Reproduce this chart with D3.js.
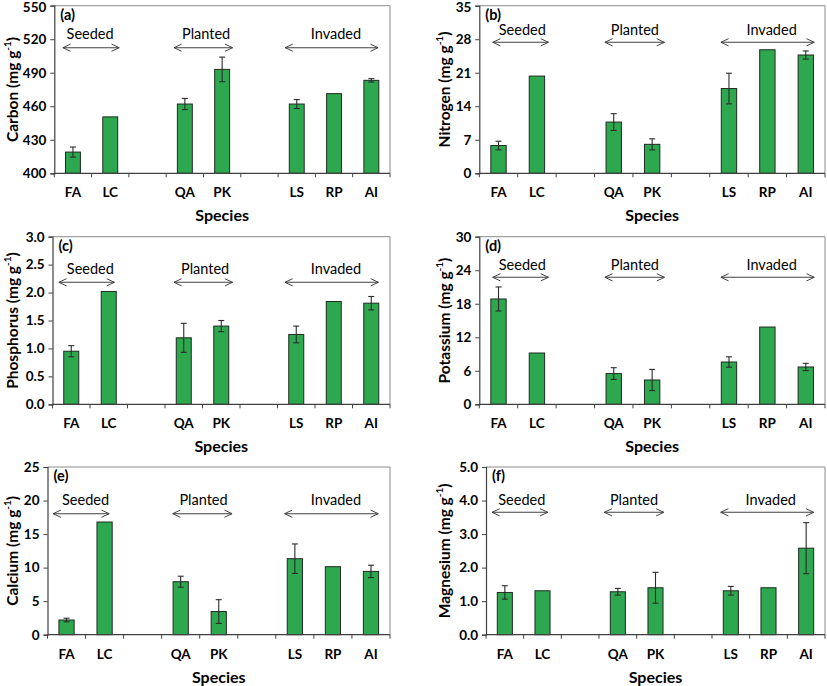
<!DOCTYPE html>
<html>
<head>
<meta charset="utf-8">
<script src="https://cdn.jsdelivr.net/npm/d3@7"></script>
<style>
  body { margin: 0; background: #fff; }
  svg { display: block; font-family: Lato, "Open Sans", sans-serif; }
</style>
</head>
<body>
<svg id="chart" width="827" height="686"></svg>
<script>
// ---------- data ----------
const slots = ["FA", "LC", "gap1", "QA", "PK", "gap2", "LS", "RP", "AI"];
const species = ["FA", "LC", "QA", "PK", "LS", "RP", "AI"];
const groups = ["Seeded", "Planted", "Invaded"];

const carbon = [419, 450.5, 462, 493, 462, 471.3, 483.2];
const carbonErr = [4.5, 0, 5, 11, 4, 0, 1.5];
const nitrogen = [5.8, 20.3, 10.7, 6.05, 17.7, 25.8, 24.7];
const nitrogenErr = [0.9, 0, 1.75, 1.15, 3.2, 0, 0.85];
const phosphorus = [0.95, 2.02, 1.19, 1.40, 1.25, 1.84, 1.81];
const phosphorusErr = [0.1, 0, 0.26, 0.1, 0.15, 0, 0.12];
const potassium = [18.85, 9.18, 5.5, 4.35, 7.57, 13.83, 6.68];
const potassiumErr = [2.15, 0, 1.05, 1.9, 0.93, 0, 0.65];
const calcium = [2.19, 16.8, 7.9, 3.45, 11.33, 10.14, 9.44];
const calciumErr = [0.27, 0, 0.82, 1.77, 2.2, 0, 0.92];
const magnesium = [1.26, 1.31, 1.28, 1.40, 1.31, 1.40, 2.58];
const magnesiumErr = [0.2, 0, 0.1, 0.46, 0.13, 0, 0.76];

const carbonTicks = [400, 430, 460, 490, 520, 550];
const nitrogenTicks = [0, 7, 14, 21, 28, 35];
const phosphorusTicks = [0, 0.5, 1.0, 1.5, 2.0, 2.5, 3.0];
const potassiumTicks = [0, 6, 12, 18, 24, 30];
const calciumTicks = [0, 5, 10, 15, 20, 25];
const magnesiumTicks = [0, 1, 2, 3, 4, 5];

const panelLabels = ["(a)", "(b)", "(c)", "(d)", "(e)", "(f)"];
const yTitles = ["Carbon", "Nitrogen", "Phosphorus", "Potassium", "Calcium", "Magnesium"];
const xTitle = "Species";

// ---------- layout (positions / styles) ----------
const layout = [
  { left: 54.3, right: 390, top: 5.7, bottom: 173.3, titleX: 11.5, fmt: d3.format("d"),
    ann: [[0.23,1.74,0.96],[3.21,4.78,4.07],[6.19,8.68,7.55]], textDy: 27.6, arrowDy: 42 },
  { left: 479.3, right: 825, top: 5.7, bottom: 173.3, titleX: 444, fmt: d3.format("d"),
    ann: [[0.35,1.80,1.12],[3.27,4.82,4.05],[6.29,8.72,7.61]], textDy: 23.3, arrowDy: 36.6 },
  { left: 52.5, right: 390, top: 236.7, bottom: 404.3, titleX: 11.5, fmt: d3.format(".1f"),
    ann: [[0.17,1.65,1.01],[3.24,4.80,4.07],[6.2,8.69,7.56]], textDy: 31.7, arrowDy: 45.6 },
  { left: 479.3, right: 825, top: 236.7, bottom: 404.3, titleX: 444, fmt: d3.format("d"),
    ann: [[0.35,1.80,1.12],[3.27,4.82,4.05],[6.29,8.72,7.61]], textDy: 27.3, arrowDy: 40.6 },
  { left: 47.5, right: 390, top: 467, bottom: 634.7, titleX: 11.5, fmt: d3.format("d"),
    ann: [[0.15,1.62,1.0],[3.29,4.85,4.1],[6.23,8.69,7.58]], textDy: 32.7, arrowDy: 46.7 },
  { left: 486, right: 825, top: 467, bottom: 634.7, titleX: 444, fmt: d3.format(".1f"),
    ann: [[0.16,1.64,0.95],[3.14,4.72,3.93],[6.23,8.70,7.56]], textDy: 32, arrowDy: 45.3 }
];

const panelData = [
  { values: carbon, errs: carbonErr, ticks: carbonTicks },
  { values: nitrogen, errs: nitrogenErr, ticks: nitrogenTicks },
  { values: phosphorus, errs: phosphorusErr, ticks: phosphorusTicks },
  { values: potassium, errs: potassiumErr, ticks: potassiumTicks },
  { values: calcium, errs: calciumErr, ticks: calciumTicks },
  { values: magnesium, errs: magnesiumErr, ticks: magnesiumTicks }
];

const barFill = "#2EA84F";
const barStroke = "#1f2a22";
const axisColor = "#404040";
const frameColor = "#8c8c8c";
const arrowColor = "#404040";

const svg = d3.select("#chart");

// arrow marker defs
const defs = svg.append("defs");
["start", "end"].forEach(kind => {
  defs.append("marker")
    .attr("id", "arrow-" + kind)
    .attr("viewBox", "0 0 10 10")
    .attr("refX", kind === "end" ? 9.5 : 0.5)
    .attr("refY", 5)
    .attr("markerWidth", 9)
    .attr("markerHeight", 9)
    .attr("markerUnits", "userSpaceOnUse")
    .attr("orient", "auto")
    .append("path")
    .attr("d", kind === "end" ? "M1,1 L9.5,5 L1,9" : "M9,1 L0.5,5 L9,9")
    .attr("fill", "none")
    .attr("stroke", arrowColor)
    .attr("stroke-width", 1.1);
});

panelData.forEach((pd, i) => {
  const L = layout[i];
  const g = svg.append("g");

  const x = d3.scaleBand().domain(slots).range([L.left, L.right]).paddingInner(0).paddingOuter(0);
  const y = d3.scaleLinear().domain([pd.ticks[0], pd.ticks[pd.ticks.length - 1]]).range([L.bottom, L.top]);
  const slotW = x.bandwidth();
  const barW = slotW * 0.4;
  const slotX = s => L.left + s * slotW;

  // frame (top & right)
  g.append("path")
    .attr("d", `M${L.left},${L.top}H${L.right}V${L.bottom}`)
    .attr("fill", "none").attr("stroke", frameColor).attr("stroke-width", 1);

  // bars
  const rows = species.map((s, k) => ({ s, v: pd.values[k], e: pd.errs[k] }));
  g.selectAll("rect.bar").data(rows).enter().append("rect")
    .attr("class", "bar")
    .attr("x", d => x(d.s) + (slotW - barW) / 2)
    .attr("width", barW)
    .attr("y", d => y(d.v))
    .attr("height", d => y(pd.ticks[0]) - y(d.v))
    .attr("fill", barFill)
    .attr("stroke", barStroke)
    .attr("stroke-width", 1);

  // error bars
  const eb = g.selectAll("g.err").data(rows.filter(d => d.e > 0)).enter().append("g")
    .attr("class", "err").attr("stroke", "#2b2b2b").attr("stroke-width", 1.1);
  eb.append("line")
    .attr("x1", d => x(d.s) + slotW / 2).attr("x2", d => x(d.s) + slotW / 2)
    .attr("y1", d => y(d.v + d.e)).attr("y2", d => y(d.v - d.e));
  [1, -1].forEach(sign => {
    eb.append("line")
      .attr("x1", d => x(d.s) + slotW / 2 - 3).attr("x2", d => x(d.s) + slotW / 2 + 3)
      .attr("y1", d => y(d.v + sign * d.e)).attr("y2", d => y(d.v + sign * d.e));
  });

  // y axis
  const yAxis = d3.axisLeft(y).tickValues(pd.ticks).tickFormat(L.fmt).tickSize(4).tickPadding(4);
  const ya = g.append("g").attr("transform", `translate(${L.left},0)`).call(yAxis);
  ya.select(".domain").attr("stroke", axisColor).attr("stroke-width", 1.2);
  ya.selectAll(".tick line").attr("stroke", axisColor);
  ya.selectAll(".tick text").attr("fill", "#000").style("font-size", "13.5px").style("font-weight", "bold")
    .style("font-family", "Lato, 'Open Sans', sans-serif");
  if (L.top < 8) {
    ya.selectAll(".tick text").filter(d => d === pd.ticks[pd.ticks.length - 1]).attr("y", 1.5);
  }

  // x axis: ticks at slot boundaries, labels at centers
  const xa = g.append("g").attr("transform", `translate(0,${L.bottom})`);
  xa.append("line").attr("x1", L.left).attr("x2", L.right).attr("stroke", axisColor).attr("stroke-width", 1.2);
  xa.selectAll("line.bt").data(d3.range(slots.length + 1)).enter().append("line")
    .attr("class", "bt")
    .attr("x1", k => L.left + k * slotW).attr("x2", k => L.left + k * slotW)
    .attr("y1", 0).attr("y2", 4).attr("stroke", axisColor);
  xa.selectAll("text").data(species).enter().append("text")
    .attr("x", s => x(s) + slotW / 2)
    .attr("y", 24)
    .attr("text-anchor", "middle")
    .style("font-size", "13.5px").style("font-weight", "bold")
    .text(s => s);

  // x title
  g.append("text")
    .attr("x", (L.left + L.right) / 2)
    .attr("y", L.bottom + 48)
    .attr("text-anchor", "middle")
    .style("font-size", "16px").style("font-weight", "bold")
    .text(xTitle);

  // y title
  const yt = g.append("text")
    .attr("transform", `translate(${L.titleX},${(L.top + L.bottom) / 2}) rotate(-90)`)
    .attr("text-anchor", "middle")
    .attr("dominant-baseline", "central")
    .style("font-size", "15.5px").style("font-weight", "bold");
  yt.append("tspan").text(yTitles[i] + " (mg g");
  yt.append("tspan").attr("dy", -5).style("font-size", "10px").text("-1");
  yt.append("tspan").attr("dy", 5).text(")");

  // panel label
  g.append("text")
    .attr("x", L.left + 6)
    .attr("y", L.top + 14)
    .style("font-size", "14.5px").style("font-weight", "bold")
    .text(panelLabels[i]);

  // group annotations
  groups.forEach((name, k) => {
    const [s0, s1, st] = L.ann[k];
    g.append("line")
      .attr("x1", slotX(s0)).attr("x2", slotX(s1))
      .attr("y1", L.top + L.arrowDy).attr("y2", L.top + L.arrowDy)
      .attr("stroke", arrowColor).attr("stroke-width", 1.1)
      .attr("marker-start", "url(#arrow-start)")
      .attr("marker-end", "url(#arrow-end)");
    g.append("text")
      .attr("x", slotX(st))
      .attr("y", L.top + L.textDy)
      .attr("text-anchor", "middle")
      .attr("dominant-baseline", "central")
      .style("font-size", "14.5px")
      .text(name);
  });
});
</script>
</body>
</html>
